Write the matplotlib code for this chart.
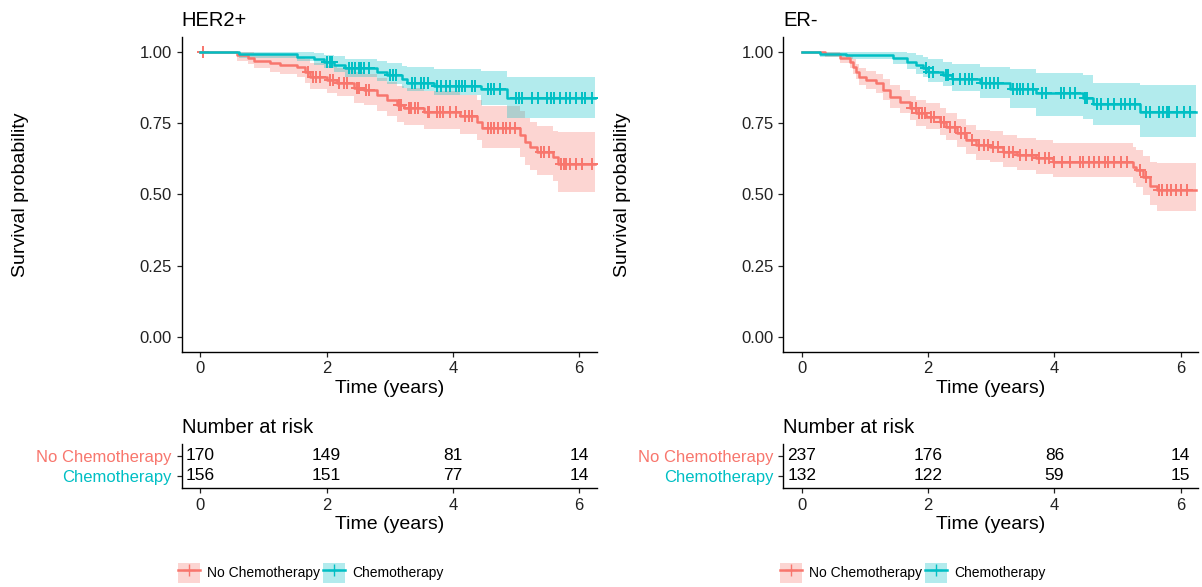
import numpy as np
import matplotlib.pyplot as plt
from matplotlib.lines import Line2D
from matplotlib.patches import Patch

plt.rcParams['font.family'] = ['Liberation Sans', 'DejaVu Sans']

# HER2+ , no chemotherapy
her2_no_t = [0, 0.58, 0.75, 0.85, 1.11, 1.27, 1.53, 1.66, 1.74, 2.00, 2.16, 2.43, 2.59, 2.80,
             2.96, 3.12, 3.22, 3.54, 4.12, 4.39, 4.47, 5.07, 5.15, 5.23, 5.34, 5.58, 5.66]
her2_no_s = [1.0, 0.990, 0.979, 0.970, 0.961, 0.955, 0.947, 0.932, 0.914, 0.903, 0.891, 0.873, 0.867, 0.850,
             0.832, 0.815, 0.803, 0.791, 0.776, 0.756, 0.733, 0.709, 0.685, 0.668, 0.651, 0.633, 0.606]
her2_no_hi = [1.0, 1.0, 1.0, 0.998, 0.993, 0.990, 0.985, 0.975, 0.962, 0.953, 0.945, 0.930, 0.925, 0.911,
              0.896, 0.882, 0.874, 0.864, 0.850, 0.833, 0.812, 0.792, 0.770, 0.755, 0.740, 0.725, 0.720]
her2_no_lo = [1.0, 0.970, 0.958, 0.945, 0.932, 0.923, 0.912, 0.893, 0.872, 0.858, 0.845, 0.823, 0.815, 0.795,
              0.775, 0.755, 0.745, 0.732, 0.712, 0.690, 0.662, 0.632, 0.605, 0.585, 0.568, 0.548, 0.510]
her2_no_cens = [0.05, 1.70, 1.78, 1.83, 1.90, 2.05, 2.10, 2.20, 2.28, 2.33, 2.48, 2.52, 2.62, 2.68, 3.15, 3.18,
                3.30, 3.33, 3.40, 3.45, 3.60, 3.62, 3.75, 3.80, 3.85, 3.95, 4.05, 4.20, 4.25, 4.30, 4.55, 4.60,
                4.65, 4.72, 4.80, 4.85, 4.90, 4.98, 5.40, 5.45, 5.52, 5.72, 5.76, 5.80, 5.85, 5.95, 6.05, 6.20]

# HER2+ , chemotherapy
her2_ch_t = [0, 0.62, 1.53, 1.80, 1.96, 2.12, 2.30, 2.80, 2.96, 3.20, 3.28, 3.70, 4.45, 4.86]
her2_ch_s = [1.0, 0.993, 0.985, 0.975, 0.967, 0.956, 0.944, 0.930, 0.922, 0.905, 0.893, 0.882, 0.871, 0.838]
her2_ch_hi = [1.0, 1.0, 1.0, 0.997, 0.992, 0.986, 0.978, 0.968, 0.962, 0.952, 0.947, 0.942, 0.935, 0.914]
her2_ch_lo = [1.0, 0.980, 0.968, 0.955, 0.945, 0.932, 0.915, 0.898, 0.888, 0.875, 0.865, 0.850, 0.815, 0.768]
her2_ch_cens = [2.00, 2.05, 2.08, 2.35, 2.40, 2.45, 2.52, 2.55, 2.60, 2.68, 3.00, 3.05, 3.10, 3.35, 3.40, 3.50,
                3.55, 3.60, 3.75, 3.82, 3.90, 3.95, 4.05, 4.10, 4.15, 4.20, 4.30, 4.35, 4.55, 4.60, 4.65, 4.75,
                5.00, 5.05, 5.10, 5.25, 5.35, 5.50, 5.55, 5.60, 5.70, 5.80, 5.85, 5.95, 6.05, 6.10, 6.20]
her2_end = 6.25

# ER- , no chemotherapy
er_no_t = [0, 0.36, 0.60, 0.76, 0.81, 0.86, 0.91, 1.02, 1.18, 1.28, 1.39, 1.55, 1.71, 1.81, 1.97, 2.18,
           2.29, 2.45, 2.60, 2.76, 2.98, 3.19, 3.40, 3.71, 3.98, 5.25, 5.30, 5.40, 5.52, 5.62]
er_no_s = [1.0, 0.994, 0.979, 0.967, 0.949, 0.932, 0.914, 0.903, 0.891, 0.867, 0.844, 0.826, 0.803, 0.785,
           0.774, 0.756, 0.738, 0.715, 0.692, 0.674, 0.668, 0.651, 0.639, 0.627, 0.615, 0.598, 0.586, 0.563,
           0.530, 0.515]
er_no_hi = [1.0, 1.0, 0.995, 0.988, 0.975, 0.960, 0.945, 0.935, 0.925, 0.905, 0.885, 0.869, 0.848, 0.832,
            0.822, 0.805, 0.788, 0.766, 0.745, 0.728, 0.722, 0.710, 0.700, 0.690, 0.680, 0.668, 0.655, 0.635,
            0.615, 0.610]
er_no_lo = [1.0, 0.985, 0.962, 0.946, 0.925, 0.905, 0.884, 0.871, 0.858, 0.831, 0.806, 0.787, 0.762, 0.742,
            0.730, 0.710, 0.690, 0.666, 0.642, 0.623, 0.616, 0.598, 0.585, 0.572, 0.560, 0.540, 0.527, 0.500,
            0.462, 0.443]
er_no_cens = [1.75, 1.80, 1.85, 1.90, 1.95, 2.05, 2.10, 2.20, 2.25, 2.35, 2.42, 2.52, 2.58, 2.70, 2.80, 2.88,
              2.95, 3.02, 3.10, 3.20, 3.28, 3.35, 3.45, 3.55, 3.65, 3.75, 3.85, 3.92, 4.00, 4.12, 4.25, 4.40,
              4.45, 4.55, 4.62, 4.70, 4.80, 4.85, 4.95, 5.05, 5.15, 5.35, 5.45, 5.65, 5.70, 5.78, 5.85, 5.92,
              6.00, 6.10]

# ER- , chemotherapy
er_ch_t = [0, 0.28, 0.70, 1.44, 1.66, 1.81, 1.92, 2.00, 2.23, 2.37, 2.82, 3.29, 3.71, 4.45, 4.61, 5.35]
er_ch_s = [1.0, 0.994, 0.990, 0.979, 0.967, 0.955, 0.944, 0.932, 0.920, 0.908, 0.891, 0.870, 0.856, 0.838,
           0.820, 0.791]
er_ch_hi = [1.0, 1.0, 1.0, 1.0, 0.997, 0.990, 0.982, 0.975, 0.966, 0.958, 0.948, 0.942, 0.926, 0.920, 0.893,
            0.886]
er_ch_lo = [1.0, 0.982, 0.975, 0.958, 0.940, 0.925, 0.912, 0.896, 0.880, 0.865, 0.840, 0.805, 0.775, 0.765,
            0.745, 0.703]
er_ch_cens = [1.97, 2.02, 2.07, 2.28, 2.32, 2.40, 2.50, 2.58, 2.65, 2.70, 2.86, 2.92, 2.98, 3.05, 3.10, 3.35,
              3.40, 3.45, 3.50, 3.58, 3.66, 3.80, 3.86, 4.10, 4.16, 4.25, 4.32, 4.48, 4.52, 4.68, 4.74, 4.85,
              4.95, 5.05, 5.12, 5.20, 5.28, 5.45, 5.52, 5.65, 5.72, 5.78, 5.82, 5.95, 6.05, 6.15]
er_end = 6.25

# number at risk
risk_times = [0, 2, 4, 6]
her2_risk_no = [170, 149, 81, 14]
her2_risk_ch = [156, 151, 77, 14]
er_risk_no = [237, 176, 86, 14]
er_risk_ch = [132, 122, 59, 15]

groups = ['No Chemotherapy', 'Chemotherapy']
red = '#F8766D'
teal = '#00BFC4'
W, H = 1202, 587


def px_axes(fig, x0, y0, x1, y1):
    return fig.add_axes([x0 / W, 1 - y1 / H, (x1 - x0) / W, (y1 - y0) / H])


def style_axes(ax):
    for side in ['top', 'right']:
        ax.spines[side].set_visible(False)
    for side in ['left', 'bottom']:
        ax.spines[side].set_linewidth(1.0)
    ax.tick_params(length=3.5, width=0.9, labelsize=12, colors='#222222', labelcolor='#222222')
    ax.set_xlim(-0.295, 6.28)
    ax.set_xticks([0, 2, 4, 6])


def draw_band(ax, t, lo, hi, t_end, color):
    tt = np.append(t, t_end)
    ax.fill_between(tt, np.append(lo, lo[-1]), np.append(hi, hi[-1]), step='post',
                    color=color, alpha=0.3, linewidth=0)


def draw_line(ax, t, s, cens, t_end, color):
    tt = np.append(t, t_end)
    ss = np.append(s, s[-1])
    ax.step(tt, ss, where='post', color=color, linewidth=1.8)
    # censor marks sit on the step curve
    idx = np.searchsorted(t, cens, side='right') - 1
    ax.plot(cens, np.array(s)[idx], linestyle='none', marker='+', markersize=8,
            markeredgewidth=1.4, color=color)


fig = plt.figure(figsize=(W / 100, H / 100), dpi=100)

panels = [
    ('HER2+', 0, her2_no_t, her2_no_s, her2_no_lo, her2_no_hi, her2_no_cens,
     her2_ch_t, her2_ch_s, her2_ch_lo, her2_ch_hi, her2_ch_cens, her2_end, her2_risk_no, her2_risk_ch),
    ('ER-', 601.6, er_no_t, er_no_s, er_no_lo, er_no_hi, er_no_cens,
     er_ch_t, er_ch_s, er_ch_lo, er_ch_hi, er_ch_cens, er_end, er_risk_no, er_risk_ch),
]

for (title, dx, nt, ns, nlo, nhi, nc, ct, cs, clo, chi, cc, t_end, rno, rch) in panels:
    # survival curves
    ax = px_axes(fig, 181.7 + dx, 37.3, 596.7 + dx, 351.7)
    style_axes(ax)
    draw_band(ax, nt, nlo, nhi, t_end, red)
    draw_band(ax, ct, clo, chi, t_end, teal)
    draw_line(ax, nt, ns, nc, t_end, red)
    draw_line(ax, ct, cs, cc, t_end, teal)
    ax.set_ylim(-0.053, 1.053)
    ax.set_yticks([0, 0.25, 0.5, 0.75, 1.0])
    ax.set_yticklabels(['0.00', '0.25', '0.50', '0.75', '1.00'])
    ax.set_xlabel('Time (years)', fontsize=14, labelpad=2.5)
    ax.set_title(title, loc='left', fontsize=14.5, pad=8)
    fig.text((21 + dx) / W, 1 - 195 / H, 'Survival probability', rotation=90,
             ha='center', va='center', fontsize=14)

    # risk table
    rt = px_axes(fig, 181.7 + dx, 444, 596.7 + dx, 488)
    style_axes(rt)
    rt.set_ylim(0.4, 2.6)
    rt.set_yticks([2, 1])
    rt.set_yticklabels(groups)
    for lab, c in zip(rt.get_yticklabels(), [red, teal]):
        lab.set_color(c)
    for x, a, b in zip(risk_times, rno, rch):
        rt.text(x, 2, str(a), ha='center', va='center', fontsize=12.5)
        rt.text(x, 1, str(b), ha='center', va='center', fontsize=12.5)
    rt.set_xlabel('Time (years)', fontsize=14, labelpad=2.5)
    rt.set_title('Number at risk', loc='left', fontsize=14.5, pad=8)

    # legend
    handles = [(Patch(facecolor=red, alpha=0.3, linewidth=0),
                Line2D([], [], color=red, marker='+', markersize=8, linewidth=1.8)),
               (Patch(facecolor=teal, alpha=0.3, linewidth=0),
                Line2D([], [], color=teal, marker='+', markersize=8, linewidth=1.8))]
    fig.legend(handles, groups, loc='center', bbox_to_anchor=((311 + dx) / W, 1 - 573 / H),
               ncol=2, frameon=False, fontsize=10, handlelength=1.6, handleheight=1.9,
               columnspacing=0.2, handletextpad=0.5)

fig.savefig('out.png', dpi=100)
